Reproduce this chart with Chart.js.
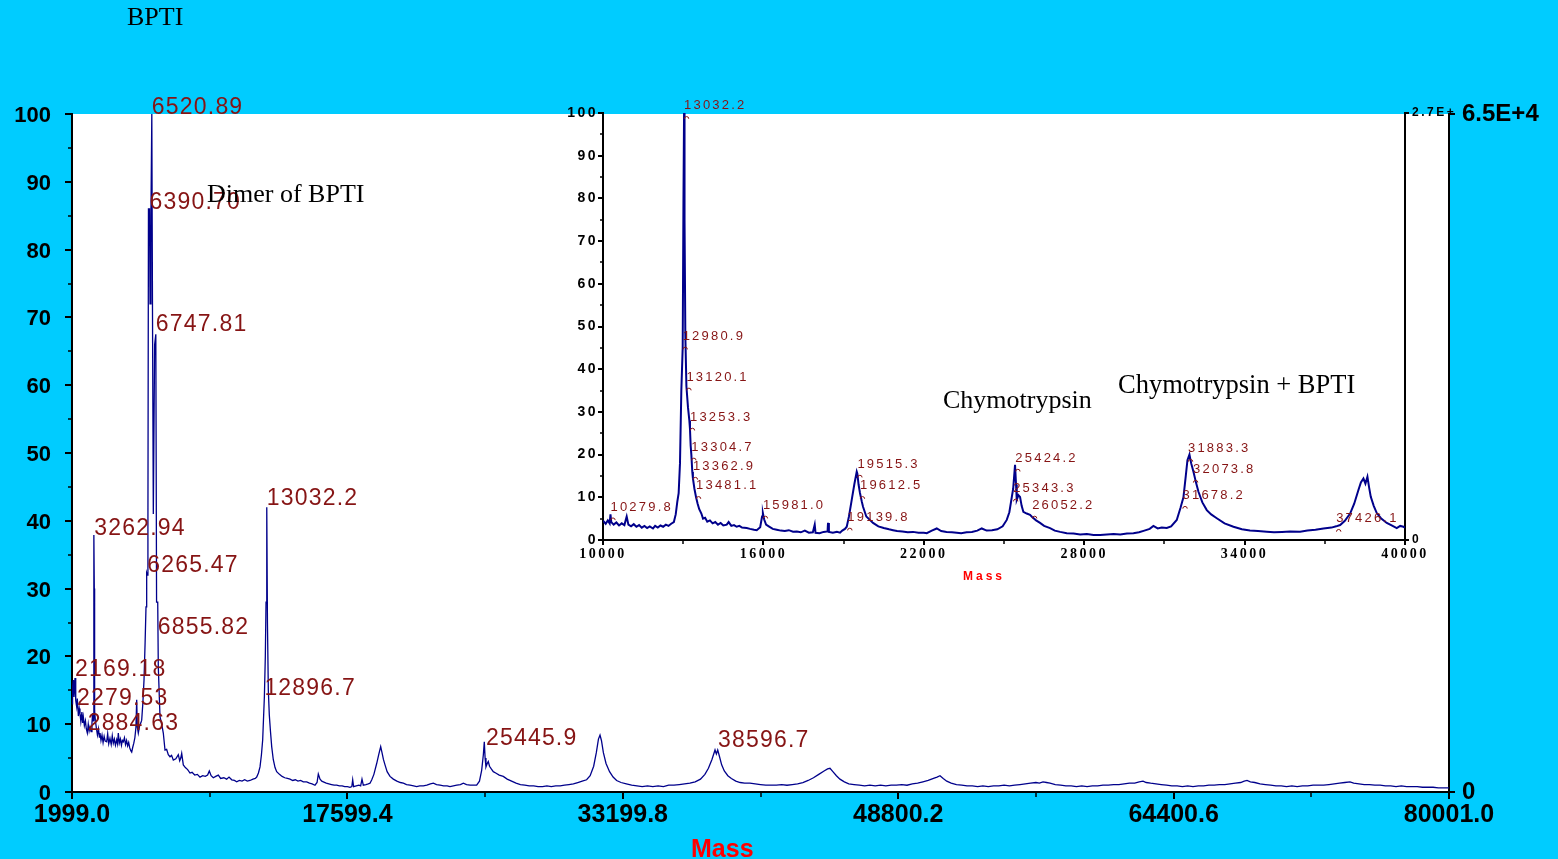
<!DOCTYPE html>
<html>
<head>
<meta charset="utf-8">
<title>BPTI</title>
<script src="https://cdn.jsdelivr.net/npm/chart.js@4.4.1/dist/chart.umd.min.js"></script>
<style>
html,body{margin:0;padding:0;width:1558px;height:859px;overflow:hidden;background:#00CCFF;}
#stage{position:relative;width:1558px;height:859px;}
canvas{position:absolute;}
#mainCanvas{left:0;top:0;}
#insetCanvas{left:540px;top:90px;}
.t{position:absolute;white-space:nowrap;line-height:1;}
.serif{font-family:'Liberation Serif','Times New Roman',serif;color:#000;font-size:26px;}
.axt{font-family:'Liberation Sans',Arial,sans-serif;font-weight:bold;color:#FF0000;}
</style>
</head>
<body>
<div id="stage">
<canvas id="mainCanvas" width="1558" height="859"></canvas>
<canvas id="insetCanvas" width="918" height="510"></canvas>
<div class="t serif" style="left:127px;top:4px;">BPTI</div>
<div class="t serif" style="left:207px;top:181px;">Dimer of BPTI</div>
<div class="t serif" style="left:943px;top:387px;">Chymotrypsin</div>
<div class="t serif" style="left:1118px;top:371px;font-size:26.5px;">Chymotrypsin + BPTI</div>
<div class="t axt" style="left:691px;top:836px;font-size:25px;">Mass</div>
<div class="t axt" style="left:963px;top:570px;font-size:12px;letter-spacing:3px;">Mass</div>
</div>
<script>
// ---------- main spectrum ----------
const mainMass = [1999,2030,2073,2110,2169,2210,2263,2300,2360,2410,2452,2500,2560,2600,2640,2700,2760,2810,2867,2920,2970,3019,3080,3130,3170,3200,3230,3245,3262,3280,3321,3380,3440,3500,3550,3585,3640,3700,3760,3820,3880,3963,4020,4080,4150,4220,4280,4339,4400,4460,4530,4580,4622,4680,4740,4800,4850,4905,4970,5030,5090,5150,5210,5270,5330,5381,5440,5500,5560,5620,5664,5700,5755,5830,5900,5947,6010,6078,6140,6191,6229,6265,6300,6330,6390,6420,6470,6520,6560,6605,6680,6747,6790,6855,6887,6984,7080,7171,7267,7360,7454,7550,7640,7738,7880,8021,8100,8160,8213,8304,8420,8550,8683,8800,8950,9100,9250,9400,9550,9680,9777,9880,10004,10140,10287,10420,10600,10760,10893,11050,11200,11329,11480,11630,11780,11930,12082,12250,12380,12462,12560,12649,12730,12801,12850,12896,12950,12990,13032,13070,13120,13175,13240,13311,13400,13500,13594,13750,13900,14050,14200,14349,14500,14650,14800,14950,15100,15293,15450,15600,15764,15880,15952,16050,16150,16236,16400,16550,16700,16850,16991,17150,17300,17450,17600,17746,17850,17899,17950,18100,18250,18350,18426,18500,18650,18780,18880,18980,19100,19258,19380,19485,19560,19640,19730,19850,20013,20200,20400,20600,20768,20950,21150,21350,21524,21700,21900,22100,22300,22468,22650,22850,23050,23250,23412,23600,23800,24000,24167,24350,24550,24750,24922,25080,25205,25300,25354,25400,25449,25520,25580,25650,25750,25864,26000,26200,26430,26650,26900,27150,27400,27650,27900,28150,28400,28650,28900,29150,29400,29650,29900,30150,30400,30650,30900,31150,31350,31550,31700,31820,31909,31990,32100,32250,32450,32650,32850,33100,33400,33700,34000,34300,34600,34900,35200,35500,35800,36100,36400,36700,37000,37300,37600,37850,38050,38250,38424,38500,38577,38680,38800,38950,39150,39350,39600,39850,40100,40400,40700,41000,41300,41600,41900,42200,42500,42800,43100,43400,43700,44000,44300,44600,44800,44937,45100,45300,45500,45750,46000,46300,46600,46900,47200,47500,47800,48100,48400,48700,49000,49300,49600,49900,50200,50500,50800,51000,51169,51350,51550,51800,52100,52400,52700,53000,53300,53600,53900,54200,54500,54800,55100,55400,55700,56000,56300,56600,56800,57004,57200,57400,57700,58000,58300,58600,58900,59200,59500,59800,60100,60400,60700,61000,61300,61600,61900,62200,62450,62669,62850,63100,63400,63700,64000,64300,64600,64900,65200,65500,65800,66100,66400,66700,67000,67300,67600,67900,68200,68400,68558,68750,69000,69300,69600,69900,70200,70500,70800,71100,71400,71700,72000,72300,72600,72900,73200,73500,73800,74100,74393,74600,74900,75200,75500,75800,76100,76400,76700,77000,77300,77600,77900,78200,78500,78800,79100,79400,79700,80001];
const mainIntensity = [13,15.5,16.5,14,16.8,13.5,12.6,13.8,11.2,12.3,11.6,10.4,11.8,10.2,11.1,9.8,10.5,9.3,8.7,10,9,9.6,8.9,10.2,11.6,10.5,12,37.9,30,12,10.6,9.4,8.4,9.3,8.1,8.7,7.6,8.4,7.3,8.2,7.5,7.4,8.6,7.1,7.9,7.0,8.3,7.2,7.8,6.9,7.7,7.1,8.7,7.2,7.8,6.9,7.6,7.4,8.0,7.0,7.6,6.8,7.3,6.5,6.1,5.9,6.6,7.2,8.0,9.5,13.6,9.6,8.7,9.8,10.2,10.6,13,16.5,22,27.3,32.3,32,40,86,86,72,85,100,70,41,66,67.5,28,28,18.5,11.1,10,8.7,6.2,6.3,5.5,5.2,5.4,4.7,4.9,5.5,4.6,5.0,5.7,4.0,3.6,3.3,2.8,2.9,2.5,2.6,2.2,2.4,2.3,2.5,3.1,2.4,2.1,2.3,2.5,2.0,2.1,1.9,2.2,1.8,1.7,1.5,1.7,1.6,1.8,1.6,1.7,1.9,2.0,2.2,2.8,3.7,5.5,7.7,11,14,20,28,42,25,15,11.4,9,6.7,4.8,3.6,3.0,2.6,2.3,2.1,2.0,1.9,1.7,1.8,1.6,1.7,1.5,1.5,1.3,1.2,1.0,1.4,2.65,1.9,1.6,1.5,1.3,1.2,1.1,1.0,1.0,0.9,0.9,0.8,0.8,0.7,0.8,1.8,0.8,0.9,1.0,0.9,1.9,1.0,1.1,1.2,1.3,1.8,2.6,4.2,5.6,6.7,5.8,4.8,4.0,3.0,2.3,1.9,1.6,1.4,1.3,1.1,1.0,0.9,0.8,0.9,0.9,1.0,1.2,1.3,1.1,1.0,0.9,0.9,0.8,0.9,1.0,1.1,1.3,1.1,1.0,1.0,1.0,1.6,3.2,5.5,7.4,5.0,3.7,4.2,4.5,3.8,3.4,3.0,2.8,2.5,2.3,1.9,1.6,1.3,1.1,1.0,0.9,0.9,0.8,0.8,0.9,0.8,0.9,0.9,1.0,1.1,1.2,1.4,1.6,1.8,2.4,3.8,5.8,7.8,8.4,7.6,5.8,4.2,3.0,2.2,1.7,1.4,1.2,1.0,0.9,0.8,0.9,0.8,0.9,0.8,1.0,1.0,1.1,1.2,1.3,1.5,1.9,2.6,3.5,4.8,6.2,5.6,6.2,5.2,4.0,3.1,2.4,2.0,1.6,1.4,1.3,1.3,1.2,1.1,1.0,1.0,1.0,1.1,1.0,1.1,1.2,1.4,1.7,2.1,2.6,3.1,3.4,3.5,3.0,2.4,1.9,1.5,1.2,1.1,1.0,0.9,1.0,0.9,1.0,0.9,1.0,1.0,1.1,1.0,1.2,1.3,1.5,1.7,2.0,2.2,2.4,2.0,1.6,1.3,1.1,1.0,0.9,0.9,0.8,0.9,0.8,0.9,0.9,1.0,0.9,1.0,1.1,1.2,1.3,1.4,1.3,1.5,1.4,1.3,1.1,1.0,0.9,0.9,0.8,0.9,0.8,0.9,0.9,1.0,1.0,1.1,1.1,1.2,1.3,1.3,1.5,1.6,1.4,1.3,1.2,1.1,1.0,0.9,0.9,0.8,0.9,0.8,0.9,0.9,1.0,1.0,1.1,1.1,1.2,1.3,1.4,1.6,1.7,1.5,1.4,1.2,1.1,1.0,0.9,0.9,0.8,0.9,0.8,0.9,0.9,1.0,1.0,1.0,1.1,1.2,1.3,1.4,1.5,1.3,1.2,1.1,1.1,1.0,1.0,0.9,0.9,0.8,0.9,0.8,0.8,0.8,0.7,0.7,0.7,0.6,0.6,0.6];
const mainXTickValues = [1999.0, 17599.4, 33199.8, 48800.2, 64400.6, 80001.0];
const mainXMinorTicks = [9799.2, 25399.6, 41000.0, 56600.4, 72200.8];
const mainYTickValues = [0,10,20,30,40,50,60,70,80,90,100];
const mainYMinorTicks = [5,15,25,35,45,55,65,75,85,95];
const mainRightTickValues = [0,100];
const mainRightTickLabels = ['0','6.5E+4'];
const mainPeakLabels = ['2169.18','2279.53','2884.63','3262.94','6265.47','6390.70','6520.89','6747.81','6855.82','12896.7','13032.2','25445.9','38596.7'];
const mainPeakHeights = [17.1,12.8,9.1,37.9,32.4,86,100,68,23.3,14.3,42.3,6.9,6.6];

// ---------- inset spectrum ----------
const insetMass = [10000,10100,10180,10250,10279.8,10310,10400,10500,10600,10700,10800,10886,10950,11050,11150,11250,11350,11450,11550,11650,11750,11870,11950,12050,12150,12250,12350,12450,12550,12650,12720,12780,12830,12880,12930,12980.9,13010,13032.2,13050,13080,13120.1,13180,13230,13253.3,13280,13304.7,13340,13362.9,13420,13481.1,13540,13600,13680,13741,13820,13900,14000,14100,14200,14300,14400,14500,14628,14700,14800,14900,15000,15100,15200,15376,15500,15650,15750,15880,15950,15981,16030,16100,16200,16350,16500,16650,16800,16950,17108,17250,17400,17550,17700,17850,17920,17950,18100,18250,18400,18417,18450,18600,18750,18866,18950,19050,19117,19200,19304,19400,19491,19515.3,19560,19612.5,19680,19727,19850,20000,20101,20300,20500,20700,20849,21000,21200,21400,21600,21800,22000,22111,22300,22484,22650,22850,23050,23232,23400,23600,23800,24000,24168,24350,24550,24750,24950,25103,25200,25290,25343.3,25413,25450,25477,25540,25600,25660,25724,25850,25974,26052.2,26200,26348,26500,26722,26900,27100,27347,27600,27850,28100,28350,28594,28850,29100,29350,29600,29841,30050,30250,30450,30589,30750,30900,31088,31250,31462,31600,31712,31800,31862,31937,32000,32087,32180,32274,32420,32585,32750,32959,33250,33583,33900,34200,34500,34830,35100,35400,35700,36077,36350,36650,36950,37250,37426.1,37573,37750,37947,38100,38258,38350,38445,38520,38595,38660,38720,38830,38944,39100,39318,39500,39692,39820,39941,40000];
const insetIntensity = [4.5,3.8,4.6,3.9,6,4.2,3.6,4.1,3.4,3.9,3.5,5.5,3.6,3.2,3.7,3.1,3.5,2.9,3.3,2.8,3.2,2.7,3.3,2.9,3.4,3.1,3.6,3.3,3.8,4.2,6,9,11,18,35,45,80,100,75,48,36,31,28,26,22,20,16,14.5,12,10,8.5,7.2,6.2,5,5.2,4.3,4.6,3.9,4.2,3.6,4,3.4,3.6,4.2,3.3,3.5,3.1,3.3,2.9,2.8,2.6,2.4,2.3,3,5.5,6.3,4.8,3.6,3.2,2.6,2.4,2.2,2.1,2.3,1.95,2.0,1.8,2.2,1.7,1.8,3.6,1.7,1.6,1.9,2.0,4.0,1.9,1.7,1.9,1.7,2.2,2.6,3.1,5.5,9.4,13,16,15.5,13,11,9,7.8,5.5,4.6,4,3.2,2.8,2.5,2.3,2.1,2.0,1.8,1.9,1.7,1.7,1.6,2.2,2.7,2.1,1.9,1.8,1.7,1.6,1.8,1.9,2.2,2.7,2.2,2.3,2.5,3.2,4.7,6.5,10,12,17.6,13,9.4,10.5,10.1,8,6.6,6.2,5.9,5.4,4.6,4,3.3,2.8,2.2,1.9,1.6,1.5,1.3,1.4,1.2,1.2,1.3,1.4,1.3,1.5,1.6,1.8,2.2,2.6,3.3,2.7,2.9,2.8,3.2,4.7,7.5,10,15,18.7,20,18,16,13.5,11.3,8.8,7,6,5.1,3.9,3.1,2.5,2.2,2.1,1.95,1.8,1.9,2.0,1.95,2.2,2.4,2.7,2.9,3.2,3.5,4.5,6.2,8.5,11.7,13.5,14.4,13.2,14.8,12.2,10.1,8.0,6.3,5.1,4,3.4,2.8,3.3,3.1,2.9];
const insetXTickValues = [10000,16000,22000,28000,34000,40000];
const insetXMinorTicks = [13000,19000,25000,31000,37000];
const insetYTickValues = [0,10,20,30,40,50,60,70,80,90,100];
const insetYMinorTicks = [5,15,25,35,45,55,65,75,85,95];
const insetRightTickValues = [0,100];
const insetRightTickLabels = ['0','2.7E+'];
const insetPeakLabels = ['10279.8','12980.9','13032.2','13120.1','13253.3','13304.7','13362.9','13481.1','15981.0','19139.8','19515.3','19612.5','25343.3','25424.2','26052.2','31678.2','31883.3','32073.8','37426.1'];
const insetPeakHeights = [5,45,99,35.4,26,19,14.5,10,5.4,2.6,15,10,9.4,16.4,5.4,7.7,18.7,13.8,2.3];

// ---------- styling ----------
const LINE_COLOR = '#00008B';
const LABEL_RED = '#861414';
const SANS = "'Liberation Sans', Arial, sans-serif";
const SERIF = "'Liberation Serif', 'Times New Roman', serif";

const pagePlugin = {
  id: 'page',
  beforeDraw(chart, args, o) {
    const ctx = chart.ctx, a = chart.chartArea;
    ctx.save();
    if (o.fillPage) { ctx.fillStyle = '#00CCFF'; ctx.fillRect(0, 0, chart.width, chart.height); }
    if (o.fillArea) { ctx.fillStyle = '#FFFFFF'; ctx.fillRect(a.left, a.top, a.right - a.left, a.bottom - a.top); }
    ctx.restore();
    ctx.letterSpacing = o.letterSpacing || '0px';
  }
};

const minorTickPlugin = {
  id: 'minorTicks',
  afterDraw(chart, args, o) {
    const ctx = chart.ctx, xs = chart.scales.x, ys = chart.scales.y;
    ctx.save();
    ctx.strokeStyle = '#000'; ctx.lineWidth = o.width;
    o.xValues.forEach(v => { const p = Math.round(xs.getPixelForValue(v)); ctx.beginPath(); ctx.moveTo(p, xs.top); ctx.lineTo(p, xs.top + o.xLen); ctx.stroke(); });
    o.yValues.forEach(v => { const p = Math.round(ys.getPixelForValue(v)); ctx.beginPath(); ctx.moveTo(ys.right, p); ctx.lineTo(ys.right - o.yLen, p); ctx.stroke(); });
    ctx.restore();
  }
};

const peakLabelPlugin = {
  id: 'peakLabels',
  afterDatasetsDraw(chart, args, o) {
    const ctx = chart.ctx, xs = chart.scales.x, ys = chart.scales.y;
    ctx.save();
    ctx.font = o.font; ctx.fillStyle = o.color; ctx.strokeStyle = o.color;
    ctx.letterSpacing = o.spacing; ctx.textAlign = 'left'; ctx.textBaseline = 'alphabetic';
    ctx.lineWidth = 1;
    o.labels.forEach((txt, i) => {
      const px = xs.getPixelForValue(parseFloat(txt));
      const py = ys.getPixelForValue(o.heights[i]);
      ctx.fillText(txt, px + o.dx, py + o.dy);
      if (o.marker) { ctx.beginPath(); ctx.arc(px + 2.5, py + 1.5, 2.2, Math.PI, 2 * Math.PI); ctx.stroke(); }
    });
    ctx.restore();
  }
};

function axisGrid(len) {
  return { display: true, drawOnChartArea: false, drawTicks: true, tickLength: len, tickWidth: 2, tickColor: '#000', color: '#000', lineWidth: 2 };
}
const blackBorder = { display: true, color: '#000', width: 2 };

// ---------- main chart ----------
new Chart(document.getElementById('mainCanvas'), {
  type: 'line',
  data: { datasets: [{ data: mainMass.map((m, i) => ({ x: m, y: mainIntensity[i] })), borderColor: LINE_COLOR, borderWidth: 1.3, pointRadius: 0, tension: 0, fill: false }] },
  options: {
    responsive: false, animation: false, devicePixelRatio: 1,
    layout: { padding: { top: 114, left: 0, right: 0, bottom: 0 } },
    plugins: {
      legend: { display: false }, tooltip: { enabled: false },
      page: { fillPage: true, fillArea: true },
      minorTicks: { xValues: mainXMinorTicks, yValues: mainYMinorTicks, xLen: 5, yLen: 4, width: 1.5 },
      peakLabels: { labels: mainPeakLabels, heights: mainPeakHeights, font: '23px ' + SANS, color: LABEL_RED, spacing: '1.2px', dx: 0, dy: 0, marker: false }
    },
    scales: {
      x: {
        type: 'linear', min: 1999, max: 80001,
        afterBuildTicks: s => { s.ticks = mainXTickValues.map(v => ({ value: v })); },
        afterFit: s => { s.height = 67; },
        ticks: { autoSkip: false, maxRotation: 0, padding: 1, color: '#000', font: { family: SANS, weight: 'bold', size: 25 }, callback: v => Number(v).toFixed(1) },
        grid: axisGrid(7), border: blackBorder
      },
      y: {
        position: 'left', min: 0, max: 100,
        afterBuildTicks: s => { s.ticks = mainYTickValues.map(v => ({ value: v })); },
        afterFit: s => { s.width = 72; },
        ticks: { padding: 14, labelOffset: 2, color: '#000', font: { family: SANS, weight: 'bold', size: 22 } },
        grid: axisGrid(7), border: blackBorder
      },
      y2: {
        position: 'right', min: 0, max: 100,
        afterBuildTicks: s => { s.ticks = mainRightTickValues.map(v => ({ value: v })); },
        afterFit: s => { s.width = 109; },
        ticks: { padding: 7, color: '#000', font: { family: SANS, weight: 'bold', size: 24 }, callback: v => mainRightTickLabels[mainRightTickValues.indexOf(v)] },
        grid: axisGrid(6), border: blackBorder
      }
    }
  },
  plugins: [pagePlugin, minorTickPlugin, peakLabelPlugin]
});

// ---------- inset chart ----------
new Chart(document.getElementById('insetCanvas'), {
  type: 'line',
  data: { datasets: [{ data: insetMass.map((m, i) => ({ x: m, y: insetIntensity[i] })), borderColor: LINE_COLOR, borderWidth: 2, pointRadius: 0, tension: 0, fill: false }] },
  options: {
    responsive: false, animation: false, devicePixelRatio: 1,
    layout: { padding: { top: 23, left: 0, right: 0, bottom: 0 } },
    plugins: {
      legend: { display: false }, tooltip: { enabled: false },
      page: { fillPage: false, fillArea: false, letterSpacing: '2.5px' },
      minorTicks: { xValues: insetXMinorTicks, yValues: insetYMinorTicks, xLen: 4, yLen: 3, width: 1.5 },
      peakLabels: { labels: insetPeakLabels, heights: insetPeakHeights, font: '13px ' + SANS, color: LABEL_RED, spacing: '2.2px', dx: 0, dy: -8, marker: true }
    },
    scales: {
      x: {
        type: 'linear', min: 10000, max: 40000,
        afterBuildTicks: s => { s.ticks = insetXTickValues.map(v => ({ value: v })); },
        afterFit: s => { s.height = 60; },
        ticks: { autoSkip: false, maxRotation: 0, padding: 1, color: '#000', font: { family: SERIF, weight: 'bold', size: 14 }, callback: v => String(v) },
        grid: axisGrid(5), border: blackBorder
      },
      y: {
        position: 'left', min: 0, max: 100,
        afterBuildTicks: s => { s.ticks = insetYTickValues.map(v => ({ value: v })); },
        afterFit: s => { s.width = 63; },
        ticks: { padding: 0, color: '#000', font: { family: SANS, weight: 'bold', size: 14 } },
        grid: axisGrid(5), border: blackBorder
      },
      y2: {
        position: 'right', min: 0, max: 100,
        afterBuildTicks: s => { s.ticks = insetRightTickValues.map(v => ({ value: v })); },
        afterFit: s => { s.width = 53; },
        ticks: { padding: 3, color: '#000', font: { family: SANS, weight: 'bold', size: 12 }, callback: v => insetRightTickLabels[insetRightTickValues.indexOf(v)] },
        grid: axisGrid(4), border: blackBorder
      }
    }
  },
  plugins: [pagePlugin, minorTickPlugin, peakLabelPlugin]
});
</script>
</body>
</html>
